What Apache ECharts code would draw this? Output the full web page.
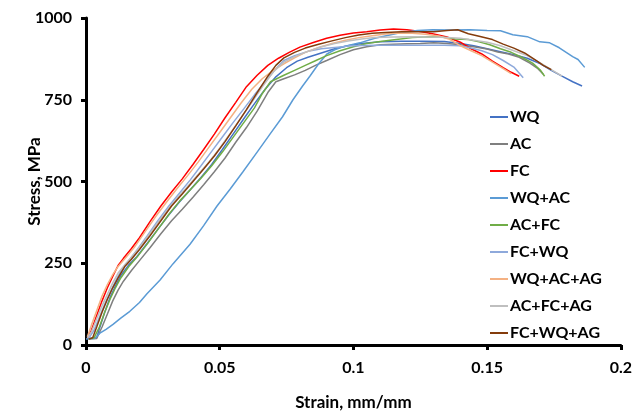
<!DOCTYPE html>
<html>
<head>
<meta charset="utf-8">
<script src="https://cdn.jsdelivr.net/npm/echarts@6/dist/echarts.min.js"></script>
<style>
  html, body { margin: 0; padding: 0; background: #fff; }
  #chart { width: 635px; height: 416px; }
</style>
</head>
<body>
<div id="chart"></div>
<script>
  // strain (mm/mm), stress (MPa) pairs
  var WQ = [[0.001,20],[0.004,22],[0.005,50],[0.007,100],[0.009,145],[0.011,180],[0.013,212],[0.016,245],[0.019,270],[0.023,312],[0.027,355],[0.031,398],[0.035,438],[0.039,475],[0.043,512],[0.047,552],[0.051,598],[0.055,645],[0.059,692],[0.063,738],[0.067,782],[0.071,820],[0.075,848],[0.079,868],[0.083,880],[0.088,893],[0.093,906],[0.098,915],[0.103,922],[0.110,927],[0.118,929],[0.126,929],[0.134,928],[0.140,922],[0.145,915],[0.150,906],[0.155,897],[0.160,888],[0.165,877],[0.170,860],[0.174,840],[0.178,822],[0.182,805],[0.1855,792]]
  var AC = [[0.001,18],[0.004,20],[0.006,55],[0.008,95],[0.010,135],[0.012,168],[0.014,195],[0.017,228],[0.020,258],[0.024,298],[0.028,340],[0.032,380],[0.036,415],[0.040,452],[0.044,490],[0.048,530],[0.052,572],[0.056,620],[0.060,665],[0.064,715],[0.068,772],[0.071,805],[0.074,814],[0.078,826],[0.082,840],[0.086,856],[0.090,870],[0.095,888],[0.100,903],[0.105,912],[0.110,918],[0.115,920],[0.120,921],[0.125,922],[0.130,924],[0.135,922],[0.140,918],[0.145,912],[0.150,905],[0.154,896],[0.158,890],[0.162,880],[0.166,862],[0.169,845],[0.171,828]]
  var FC = [[0.0005,20],[0.002,45],[0.004,90],[0.006,135],[0.008,175],[0.010,210],[0.012,243],[0.014,265],[0.017,295],[0.020,328],[0.024,378],[0.028,425],[0.032,468],[0.036,508],[0.040,552],[0.044,598],[0.048,645],[0.052,695],[0.056,742],[0.060,790],[0.064,825],[0.068,855],[0.072,877],[0.076,895],[0.080,911],[0.085,925],[0.090,938],[0.095,947],[0.100,954],[0.105,958],[0.110,963],[0.115,966],[0.120,964],[0.125,959],[0.130,951],[0.135,942],[0.140,926],[0.144,906],[0.148,890],[0.152,868],[0.156,848],[0.159,834],[0.162,822]]
  var WQ_AC = [[0.000,18],[0.0034,21],[0.0052,36],[0.0075,48],[0.0101,63],[0.013,82],[0.0164,103],[0.020,130],[0.0228,157],[0.0277,199],[0.0325,248],[0.0389,308],[0.044,365],[0.049,425],[0.054,478],[0.0587,530],[0.064,590],[0.0688,645],[0.0735,698],[0.0774,750],[0.081,792],[0.0837,822],[0.087,860],[0.0901,890],[0.093,903],[0.0961,912],[0.1024,924],[0.108,938],[0.1174,955],[0.124,962],[0.1297,964],[0.136,963],[0.1436,964],[0.150,962],[0.155,961],[0.1596,949],[0.165,943],[0.1697,927],[0.1734,924],[0.177,909],[0.182,882],[0.184,873],[0.1865,849]]
  var AC_FC = [[0.001,18],[0.003,22],[0.005,55],[0.007,100],[0.009,140],[0.011,175],[0.013,205],[0.016,240],[0.019,268],[0.023,310],[0.027,355],[0.031,400],[0.035,440],[0.039,475],[0.043,510],[0.047,548],[0.051,590],[0.055,635],[0.059,680],[0.063,725],[0.066,770],[0.069,805],[0.074,825],[0.078,840],[0.082,855],[0.086,870],[0.090,885],[0.095,900],[0.100,912],[0.105,922],[0.110,928],[0.116,934],[0.122,940],[0.128,943],[0.133,942],[0.138,936],[0.143,934],[0.147,927],[0.151,918],[0.155,906],[0.159,895],[0.163,880],[0.167,862],[0.170,840],[0.1715,822]]
  var FC_WQ = [[0.001,20],[0.003,45],[0.005,85],[0.007,125],[0.009,160],[0.011,195],[0.013,225],[0.016,258],[0.019,290],[0.023,335],[0.027,382],[0.031,425],[0.035,465],[0.039,505],[0.043,548],[0.047,592],[0.051,636],[0.055,680],[0.059,722],[0.063,765],[0.067,805],[0.071,845],[0.074,870],[0.078,885],[0.083,898],[0.088,906],[0.093,910],[0.098,914],[0.103,916],[0.110,917],[0.118,917],[0.126,917],[0.134,917],[0.140,915],[0.144,908],[0.148,900],[0.152,888],[0.156,870],[0.160,850],[0.1635,817]]
  var WQ_AC_AG = [[0.0005,25],[0.002,60],[0.004,105],[0.006,150],[0.008,185],[0.010,215],[0.012,240],[0.015,268],[0.018,298],[0.022,345],[0.026,392],[0.030,436],[0.034,478],[0.038,518],[0.042,560],[0.046,605],[0.050,650],[0.054,695],[0.058,740],[0.062,782],[0.066,815],[0.070,840],[0.074,860],[0.078,878],[0.082,895],[0.087,910],[0.092,922],[0.097,932],[0.102,940],[0.107,946],[0.112,951],[0.117,954],[0.122,953],[0.127,950],[0.132,945],[0.136,935],[0.140,915],[0.144,900],[0.148,885],[0.152,865],[0.156,845],[0.159,830]]
  var AC_FC_AG = [[0.0005,22],[0.002,40],[0.004,80],[0.006,120],[0.008,155],[0.010,190],[0.012,220],[0.015,250],[0.018,278],[0.022,320],[0.026,365],[0.030,408],[0.034,448],[0.038,485],[0.042,522],[0.046,560],[0.050,602],[0.054,648],[0.058,695],[0.062,742],[0.066,790],[0.070,835],[0.074,865],[0.078,882],[0.083,898],[0.088,912],[0.093,922],[0.098,930],[0.103,936],[0.108,940],[0.115,942],[0.122,943],[0.129,942],[0.135,940],[0.140,938],[0.145,932],[0.150,926],[0.155,915],[0.160,900],[0.165,885],[0.170,862],[0.174,842],[0.178,822]]
  var FC_WQ_AG = [[0.001,18],[0.0025,22],[0.004,55],[0.006,100],[0.008,140],[0.010,175],[0.012,205],[0.0145,240],[0.017,262],[0.020,292],[0.024,335],[0.028,380],[0.032,425],[0.036,462],[0.040,500],[0.044,538],[0.048,578],[0.052,622],[0.056,670],[0.060,720],[0.064,772],[0.068,822],[0.071,855],[0.074,878],[0.078,895],[0.082,908],[0.087,920],[0.092,930],[0.097,940],[0.102,948],[0.107,953],[0.112,956],[0.118,958],[0.124,958],[0.130,958],[0.135,962],[0.139,964],[0.143,952],[0.147,944],[0.152,934],[0.156,920],[0.160,908],[0.164,893],[0.168,872],[0.171,855],[0.174,842]]

  var seriesNames = ['WQ', 'AC', 'FC', 'WQ+AC', 'AC+FC', 'FC+WQ', 'WQ+AC+AG', 'AC+FC+AG', 'FC+WQ+AG']
  var seriesData = [WQ, AC, FC, WQ_AC, AC_FC, FC_WQ, WQ_AC_AG, AC_FC_AG, FC_WQ_AG]
  var colors = ['#4472C4', '#7F7F7F', '#FF0000', '#5B9BD5', '#70AD47', '#8EA9DB', '#F4B183', '#BFBFBF', '#843C0C']

  var font = 'Lato'
  var chart = echarts.init(document.getElementById('chart'))

  function plain(v) {
    return String(+v.toFixed(4))
  }

  chart.setOption({
    backgroundColor: '#fff',
    animation: false,
    color: colors,
    grid: {
      left: 86,
      right: 14,
      top: 18,
      bottom: 67
    },
    legend: {
      orient: 'vertical',
      left: 485,
      top: 104,
      icon: 'rect',
      itemWidth: 18,
      itemHeight: 2,
      itemGap: 11,
      data: seriesNames,
      textStyle: {
        fontFamily: font,
        fontWeight: 'bold',
        fontSize: 16,
        color: '#000',
        padding: [0, 0, 0, -3]
      }
    },
    xAxis: {
      type: 'value',
      min: 0,
      max: 0.2,
      interval: 0.05,
      name: 'Strain, mm/mm',
      nameLocation: 'middle',
      nameGap: 49,
      nameMoveOverlap: false,
      nameTextStyle: {
        fontFamily: font,
        fontWeight: 'bold',
        fontSize: 17,
        color: '#000'
      },
      axisLine: {
        lineStyle: {
          color: '#000',
          width: 3
        }
      },
      axisTick: {
        length: 5,
        lineStyle: {
          width: 3
        }
      },
      axisLabel: {
        margin: 15,
        fontFamily: font,
        fontWeight: 'bold',
        fontSize: 16,
        color: '#000',
        formatter: plain
      },
      splitLine: {
        show: false
      }
    },
    yAxis: {
      type: 'value',
      min: 0,
      max: 1000,
      interval: 250,
      name: 'Stress, MPa',
      nameLocation: 'middle',
      nameGap: 43,
      nameMoveOverlap: false,
      nameTextStyle: {
        fontFamily: font,
        fontWeight: 'bold',
        fontSize: 17,
        color: '#000'
      },
      axisLine: {
        lineStyle: {
          color: '#000',
          width: 3
        }
      },
      axisTick: {
        length: 5,
        lineStyle: {
          width: 3
        }
      },
      axisLabel: {
        margin: 14,
        fontFamily: font,
        fontWeight: 'bold',
        fontSize: 16,
        color: '#000',
        formatter: plain
      },
      splitLine: {
        show: false
      }
    },
    series: seriesNames.map(function (name, i) {
      return {
        name: name,
        type: 'line',
        data: seriesData[i],
        showSymbol: false,
        symbol: 'none',
        lineStyle: {
          width: 1.5
        },
        z: 2 + i
      }
    })
  })
</script>
</body>
</html>
